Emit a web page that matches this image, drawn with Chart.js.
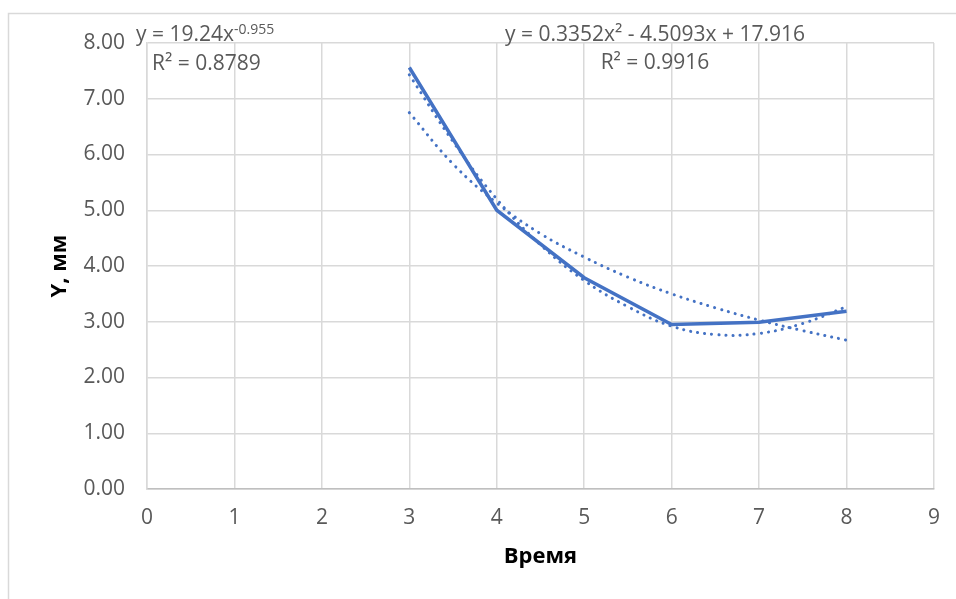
<!DOCTYPE html>
<html lang="ru">
<head>
  <meta charset="utf-8">
  <title>Y, мм</title>
  <style>
    body { margin: 0; background: #fff; }
  </style>
</head>
<body>
  <canvas id="myChart" width="956" height="599"></canvas>
  <script src="https://cdn.jsdelivr.net/npm/chart.js@4.4.1/dist/chart.umd.min.js"></script>
  <script>
    // measured series
    var timeX = [3, 4, 5, 6, 7, 8];
    var yMeasured = [7.56, 5.00, 3.79, 2.95, 2.99, 3.19];

    // trendlines
    var trendX = [3, 3.5, 4, 4.5, 5, 5.5, 6, 6.5, 7, 7.5, 8];
    var powerTrend = [6.75, 5.83, 5.13, 4.58, 4.16, 3.80, 3.50, 3.25, 3.03, 2.84, 2.67];
    var polyTrend = [7.43, 6.23, 5.20, 4.38, 3.74, 3.27, 2.92, 2.77, 2.79, 2.97, 3.27];

    var xTitle = 'Время';
    var yTitle = 'Y, мм';
    var powerEq = 'y = 19.24x';
    var powerExp = '-0.955';
    var powerR2 = 'R² = 0.8789';
    var polyEq = 'y = 0.3352x² - 4.5093x + 17.916';
    var polyR2 = 'R² = 0.9916';

    function toPoints(xs, ys) {
      var pts = [];
      for (var i = 0; i < xs.length; i++) pts.push({x: xs[i], y: ys[i]});
      return pts;
    }

    var FONT = "'Open Sans', sans-serif";
    var GRID = '#d9d9d9';
    var BLUE = '#4472c4';

    // frame of the chart box + trendline labels
    var extras = {
      id: 'extras',
      beforeDraw: function(chart) {
        var c = chart.ctx;
        c.save();
        c.strokeStyle = GRID;
        c.lineWidth = 1.5;
        c.beginPath();
        c.moveTo(8.5, 599);
        c.lineTo(8.5, 13.5);
        c.lineTo(956, 13.5);
        c.stroke();
        c.restore();
      },
      afterDatasetsDraw: function(chart) {
        var c = chart.ctx;
        c.save();
        c.fillStyle = '#595959';
        c.textBaseline = 'alphabetic';
        c.textAlign = 'left';
        c.font = '21px ' + FONT;
        c.fillText(powerEq, 136, 41);
        var w = c.measureText(powerEq).width;
        c.font = '14px ' + FONT;
        c.fillText(powerExp, 136 + w, 34);
        c.font = '21px ' + FONT;
        c.fillText(powerR2, 152, 70);
        c.textAlign = 'center';
        c.fillText(polyEq, 655, 41);
        c.fillText(polyR2, 655, 69);
        c.restore();
      }
    };

    var ctx = document.getElementById('myChart');
    var myChart = new Chart(ctx, {
      type: 'scatter',
      data: {
        datasets: [
          {
            label: 'poly',
            data: toPoints(trendX, polyTrend),
            showLine: true,
            borderColor: BLUE,
            borderWidth: 3,
            borderDash: [0.1, 7],
            borderCapStyle: 'round',
            pointRadius: 0,
            tension: 0.4
          },
          {
            label: 'power',
            data: toPoints(trendX, powerTrend),
            showLine: true,
            borderColor: BLUE,
            borderWidth: 3,
            borderDash: [0.1, 7],
            borderCapStyle: 'round',
            pointRadius: 0,
            tension: 0.4
          },
          {
            label: 'Y',
            data: toPoints(timeX, yMeasured),
            showLine: true,
            borderColor: BLUE,
            borderWidth: 3.5,
            pointRadius: 0,
            tension: 0
          }
        ]
      },
      options: {
        responsive: false,
        animation: false,
        layout: { padding: { left: 0, right: 22, top: 43, bottom: 0 } },
        plugins: { legend: { display: false }, tooltip: { enabled: false } },
        scales: {
          x: {
            min: 0, max: 9,
            afterFit: function(s) { s.height = 110; },
            ticks: { stepSize: 1, padding: 16, color: '#595959', font: { family: FONT, size: 21 } },
            grid: { color: GRID, lineWidth: 1.5, drawTicks: false },
            border: { color: '#bfbfbf', width: 1.5 },
            title: { display: true, text: xTitle, color: '#000', font: { family: FONT, size: 22, weight: 'bold' }, padding: { top: 0, bottom: 29 } }
          },
          y: {
            min: 0, max: 8,
            afterFit: function(s) { s.width = 147; },
            ticks: {
              stepSize: 1, padding: 22, color: '#595959', font: { family: FONT, size: 21 },
              callback: function(v) { return v.toFixed(2); }
            },
            grid: { color: GRID, lineWidth: 1.5, drawTicks: false },
            border: { color: GRID, width: 1.5 },
            title: { display: true, text: yTitle, color: '#000', font: { family: FONT, size: 22, weight: 'bold' }, padding: { top: 47, bottom: 0 } }
          }
        }
      },
      plugins: [extras]
    });
  </script>
</body>
</html>
